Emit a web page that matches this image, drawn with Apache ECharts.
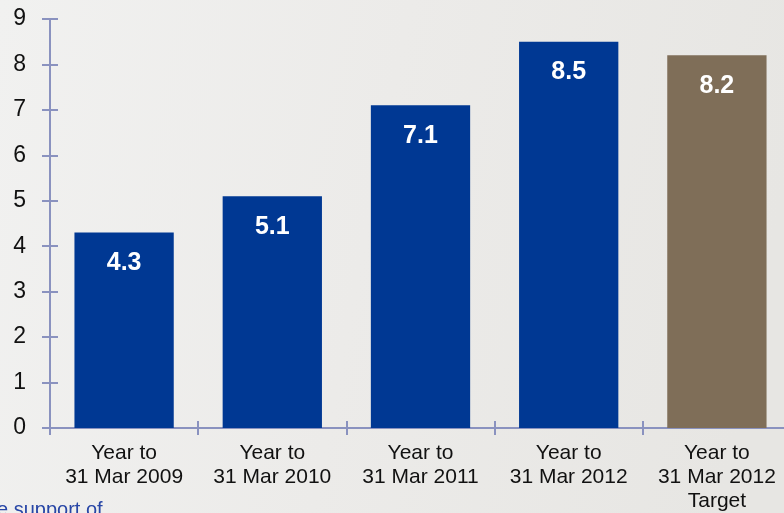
<!DOCTYPE html>
<html>
<head>
<meta charset="utf-8">
<script src="https://cdn.jsdelivr.net/npm/echarts@6/dist/echarts.min.js"></script>
<style>
html,body{margin:0;padding:0;background:#ecebe8;overflow:hidden;width:784px;height:513px;}
#chart{width:791px;height:513px;}
</style>
</head>
<body>
<div id="chart"></div>
<script>
var categories = ["Year to\n31 Mar 2009", "Year to\n31 Mar 2010", "Year to\n31 Mar 2011", "Year to\n31 Mar 2012", "Year to\n31 Mar 2012\nTarget"];
var values = [4.3, 5.1, 7.1, 8.5, 8.2];
var barColors = ["#003893", "#003893", "#003893", "#003893", "#7f6e58"];
var yTicks = [0, 1, 2, 3, 4, 5, 6, 7, 8, 9];

var FONT = "'Liberation Sans', Arial, sans-serif";
var AXIS_COLOR = "#8a92bf";

var chart = echarts.init(document.getElementById('chart'), null, {renderer: 'canvas'});
var option = {
  backgroundColor: {
    type: 'linear', x: 0, y: 0, x2: 1, y2: 0.3,
    colorStops: [
      {offset: 0, color: '#f1f1f0'},
      {offset: 0.5, color: '#ecebe9'},
      {offset: 1, color: '#e7e6e3'}
    ]
  },
  textStyle: {fontFamily: FONT},
  animation: false,
  grid: {left: 50, top: 19, right: 0, bottom: 85, containLabel: false},
  xAxis: [{
    type: 'category',
    data: categories,
    position: 'bottom',
    boundaryGap: true,
    axisLine: {show: true, lineStyle: {color: AXIS_COLOR, width: 2}},
    axisTick: {show: true, inside: false, length: 7, lineStyle: {color: AXIS_COLOR, width: 2}},
    axisLabel: {show: true, color: '#111', fontSize: 21, lineHeight: 24, margin: 13, fontFamily: FONT, interval: 0},
    splitLine: {show: false}
  }, {
    type: 'category',
    data: categories,
    position: 'bottom',
    boundaryGap: true,
    axisLine: {show: false},
    axisTick: {show: true, inside: true, length: 7, lineStyle: {color: AXIS_COLOR, width: 2}},
    axisLabel: {show: false},
    splitLine: {show: false}
  }],
  yAxis: [{
    type: 'value',
    min: yTicks[0],
    max: yTicks[yTicks.length - 1],
    interval: 1,
    axisLine: {show: true, lineStyle: {color: AXIS_COLOR, width: 2}},
    axisTick: {show: true, inside: false, length: 8, lineStyle: {color: AXIS_COLOR, width: 2}},
    axisLabel: {show: true, color: '#111', fontSize: 23, margin: 24, fontFamily: FONT},
    splitLine: {show: false}
  }, {
    type: 'value',
    position: 'left',
    min: yTicks[0],
    max: yTicks[yTicks.length - 1],
    interval: 1,
    axisLine: {show: false},
    axisTick: {show: true, inside: true, length: 8, lineStyle: {color: AXIS_COLOR, width: 2}},
    axisLabel: {show: false},
    splitLine: {show: false}
  }],
  series: [{
    type: 'bar',
    xAxisIndex: 0,
    yAxisIndex: 0,
    barCategoryGap: '33%',
    data: values.map(function (v, i) {
      return {value: v, itemStyle: {color: barColors[i]}};
    }),
    label: {
      show: true,
      position: 'insideTop',
      distance: 18,
      color: '#ffffff',
      fontSize: 25,
      fontWeight: 'bold',
      fontFamily: FONT
    }
  }],
  graphic: [{
    type: 'text',
    left: -3,
    top: 500,
    style: {text: 'e support of', fill: '#2846a6', font: '20px ' + FONT}
  }]
};
chart.setOption(option);
</script>
</body>
</html>
